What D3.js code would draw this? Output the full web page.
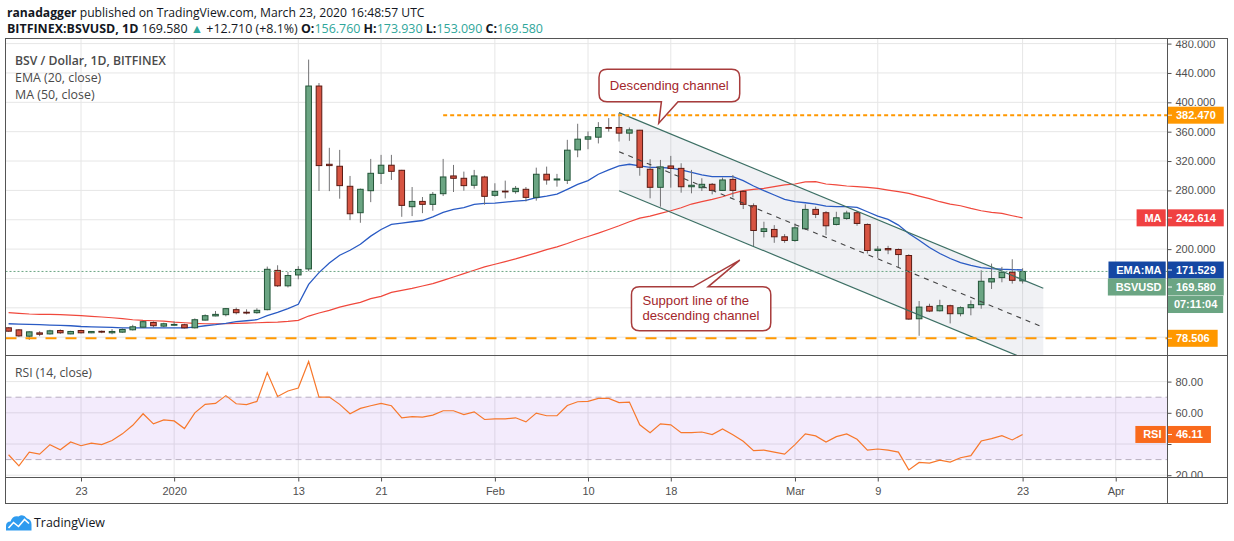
<!DOCTYPE html>
<html><head><meta charset="utf-8">
<script src="https://cdn.jsdelivr.net/npm/d3@7"></script>
<style>
html,body{margin:0;padding:0;background:#fff;}
svg{display:block;font-family:"Liberation Sans",Arial,sans-serif;}
</style></head><body>
<svg id="c" width="1234" height="541"></svg>
<script>
// ---------- DATA ----------
const firstDay = "2019-12-16", lastDay = "2020-03-23";
const open = [
92.8,90.0,81.4,85.9,84.5,89.1,84.5,89.1,86.0,88.0,86.0,86.9,90.1,93.7,100.1,95.1,
96.5,97.0,92.8,103.3,109.0,110.7,117.5,114.0,113.4,117.5,171.0,150.0,164.8,173.0,422.2,315.6,312.9,285.6,249.6,279.6,303.3,314.3,307.4,257.8,265.0,261.0,275.5,299.7,296.5,287.0,298.3,
273.3,279.0,278.3,281.5,270.5,302.0,294.2,293.8,335.2,349.8,352.5,365.7,365.7,358.0,362.0,308.8,284.2,313.3,310.0,285.0,283.7,288.3,280.0,295.0,278.7,259.1,224.0,226.8,216.8,
211.8,227.7,254.1,249.6,233.6,241.8,249.6,233.6,198.1,200.8,199.5,191.3,105.1,122.0,116.0,122.9,112.0,120.2,124.3,155.3,161.2,168.5,156.76];
const high = [
93.5,91.0,88.2,88.2,90.1,90.5,88.7,90.1,88.2,89.1,91.0,91.9,96.9,102.4,101.5,99.7,
101.5,98.3,105.6,111.1,115.7,119.8,120.3,118.0,119.4,176.2,178.0,168.8,176.7,458.2,426.3,338.0,335.2,299.7,282.5,322.9,328.4,328.4,308.0,284.6,271.0,277.8,322.9,314.7,305.6,307.9,300.0,
289.7,293.3,286.0,284.6,311.0,312.4,302.5,348.9,370.8,360.3,373.0,378.5,385.5,365.7,362.5,322.5,321.5,327.0,317.0,307.9,296.5,290.1,297.5,301.0,280.5,262.3,237.3,232.7,220.4,
235.0,261.0,257.8,251.8,250.9,252.3,251.8,235.0,204.0,204.5,200.8,193.0,129.3,125.6,131.0,124.3,122.0,130.2,171.2,180.3,175.8,186.2,173.93];
const low = [
87.5,80.4,76.3,81.4,83.6,84.5,84.0,85.0,85.5,85.5,84.0,86.0,89.1,92.8,93.3,93.7,
95.6,91.9,91.9,102.9,108.4,108.4,111.1,111.1,112.0,116.6,148.5,147.8,158.9,170.0,279.2,279.0,268.7,239.5,235.9,264.0,288.7,294.2,244.0,245.0,249.0,252.3,272.3,277.8,279.6,282.4,260.5,
271.4,269.1,275.5,265.0,266.0,287.8,285.1,288.7,325.2,336.1,344.0,360.0,346.6,347.5,300.0,269.2,257.8,283.7,276.9,276.0,279.2,274.6,279.2,270.5,254.6,204.0,215.9,208.6,208.6,
210.0,226.0,242.3,219.0,232.3,240.0,231.8,194.0,188.0,193.1,175.8,103.8,81.9,114.2,115.0,98.8,108.4,109.8,118.8,145.7,154.8,153.0,153.09];
const close = [
88.2,81.8,87.3,84.0,88.7,86.0,87.8,86.0,87.8,87.4,87.8,90.5,94.2,101.1,95.6,98.3,
97.4,92.8,103.8,109.3,111.1,118.9,113.4,113.8,116.6,172.5,150.0,164.0,172.3,422.2,313.8,313.8,286.5,248.2,281.5,303.3,314.3,306.0,259.6,265.0,261.0,274.6,298.3,296.5,286.5,299.7,271.9,
278.7,278.5,282.8,270.5,302.0,294.2,295.6,334.8,349.8,353.0,365.7,365.3,358.0,362.5,311.5,284.2,312.0,310.0,285.0,287.0,288.3,280.0,294.2,280.0,261.0,225.4,227.7,216.8,211.8,
229.0,254.1,247.3,231.8,242.7,249.2,235.0,198.1,199.9,199.0,192.6,104.7,121.0,115.6,122.9,112.0,120.2,124.3,156.2,159.8,168.5,157.5,169.58];
const ema20 = [
98.3,97.9,97.4,97.0,96.5,96.0,95.6,94.6,94.2,93.7,93.3,92.8,92.8,92.8,92.8,92.8,
92.8,92.8,93.7,95.6,97.0,98.8,101.1,102.4,103.8,109.3,113.9,118.9,124.9,152.0,168.0,181.2,191.7,198.5,206.7,217.7,226.8,233.6,235.4,237.3,239.0,244.0,250.0,254.1,256.4,261.0,262.3,
262.8,264.1,265.5,266.4,270.0,272.3,275.0,281.5,288.3,293.3,302.0,307.9,313.3,315.6,313.3,311.5,311.5,310.2,307.9,304.7,301.0,298.8,298.8,298.8,293.3,286.0,279.6,273.7,267.8,
264.6,263.2,261.4,258.7,257.8,257.8,256.9,250.9,245.0,240.5,232.7,221.3,212.2,202.2,194.0,187.2,181.7,178.0,174.9,173.5,172.6,172.1,171.53];
const ma50 = [
113.4,112.5,111.6,111.1,111.1,110.7,110.2,109.3,108.4,107.5,106.5,105.2,103.8,102.9,102.4,102.0,
100.6,99.7,98.8,98.3,98.3,98.3,98.8,99.2,99.7,100.1,100.6,101.5,102.9,108.8,113.0,116.5,121.0,124.3,127.5,132.5,135.7,141.1,143.9,146.6,149.8,153.0,157.5,162.0,166.7,171.2,175.8,
179.4,183.0,186.7,190.8,194.9,199.4,203.1,207.6,212.7,217.2,221.8,226.8,231.8,237.3,242.3,245.0,248.7,252.3,256.4,261.4,264.6,267.8,271.4,276.0,279.6,281.5,282.8,285.1,287.4,
288.7,291.5,291.9,288.7,287.4,286.0,285.1,284.2,282.8,280.5,278.3,276.0,272.3,268.7,264.6,261.4,259.1,255.5,252.3,250.0,248.7,245.5,242.61];
const rsi14 = [
33.1,26.0,34.8,33.5,39.6,36.3,41.3,38.9,40.6,39.6,42.2,46.5,52.0,59.4,52.9,55.5,
54.8,49.9,60.0,65.4,66.0,71.0,65.8,65.2,67.3,85.8,70.5,74.0,75.9,92.9,70.1,70.1,65.4,59.4,62.8,64.5,66.0,64.5,56.8,57.6,57.2,58.5,61.3,61.3,58.9,60.6,55.7,
56.1,56.1,56.8,54.2,59.8,58.1,58.1,64.7,67.1,67.3,69.2,69.2,66.5,66.9,52.3,47.3,52.9,52.3,47.3,47.3,47.7,46.0,49.7,46.0,41.7,35.7,36.1,34.8,33.5,
39.6,46.5,45.2,41.3,44.7,46.5,43.0,36.1,36.8,36.1,34.8,23.4,28.2,27.7,29.7,28.4,31.2,32.5,41.9,43.4,45.4,42.6,46.11];
const xTickDates = ["2019-12-23","2020-01-01","2020-01-13","2020-01-21","2020-02-01","2020-02-10","2020-02-18","2020-03-01","2020-03-09","2020-03-23","2020-04-01"];
const xTickLabels = ["23","2020","13","21","Feb","10","18","Mar","9","23","Apr"];
const priceTicks = [80,120,160,200,240,280,320,360,400,440,480];
const rsiTicks = [20,40,60,80];
const supportLevel = 78.506, resistLevel = 382.47, resistFrom = "2020-01-27";
const channel = {from:"2020-02-13", to:"2020-03-25", topFrom:385.9, topTo:146.6, width:106.4};
const lastPrice = 169.58, lastEma = 171.529, lastMa = 242.614, lastRsi = 46.11;

// ---------- LAYOUT ----------
const X0=5.5, X1=1167.5, XR=1227.5, Y0=38.5, YP=355.5, YR=477.5, YB=503.5;
const dates = d3.utcDay.range(new Date(firstDay+"T00:00Z"), d3.utcDay.offset(new Date(lastDay+"T00:00Z"),1));
const x = d3.scaleUtc().domain([new Date("2019-12-23T00:00Z"), new Date("2020-03-23T00:00Z")]).range([81,1022.6]);
const y = d3.scaleLinear().domain([80,480]).range([337.2,43.6]);
const yr = d3.scaleLinear().domain([20,80]).range([475.2,381.6]);

const svg = d3.select("#c");
const defs = svg.append("defs");
function clip(id,x0,y0,w,h){defs.append("clipPath").attr("id",id).append("rect").attr("x",x0).attr("y",y0).attr("width",w).attr("height",h);}
clip("cp",X0,Y0,X1-X0,YP-Y0);
clip("cr",X0,YP,X1-X0,YR-YP);
clip("ap",X1,Y0+2,XR-X1,YP-Y0-2);
clip("ar",X1,YP,XR-X1,YR-YP);

const UP="#6ba583", UPB="#225437", DN="#d75442", DNB="#5b1a13", WICK="#737375";
const GRID="#e6e6e6", AXC="#4f4f4f", FRAME="#555";

// grid
const grid = svg.append("g");
const tickDates = xTickDates.map(d=>new Date(d+"T00:00Z"));
grid.selectAll(".vg").data(tickDates).join("line").attr("x1",d=>x(d)).attr("x2",d=>x(d)).attr("y1",Y0).attr("y2",YR).attr("stroke",GRID);
grid.append("g").attr("clip-path","url(#cp)").selectAll("line").data(priceTicks).join("line")
 .attr("x1",X0).attr("x2",X1).attr("y1",d=>y(d)).attr("y2",d=>y(d)).attr("stroke",GRID);
grid.selectAll(".rg").data(rsiTicks).join("line").attr("x1",X0).attr("x2",X1).attr("y1",d=>yr(d)).attr("y2",d=>yr(d)).attr("stroke",GRID);

// ---------- PRICE PANE ----------
const pp = svg.append("g").attr("clip-path","url(#cp)");
const cd0 = new Date(channel.from+"T00:00Z"), cd1 = new Date(channel.to+"T00:00Z");
const cx0=x(cd0), cx1=x(cd1);
pp.append("path").attr("d",`M${cx0},${y(channel.topFrom)}L${cx1},${y(channel.topTo)}L${cx1},${y(channel.topTo-channel.width)}L${cx0},${y(channel.topFrom-channel.width)}Z`)
 .attr("fill","rgba(120,130,155,0.11)");

const lineGen = (arr,sc)=>d3.line().x((d,i)=>x(dates[i])).y(d=>sc(d))(arr);
pp.append("path").attr("d",lineGen(ma50,y)).attr("fill","none").attr("stroke","#f0483c").attr("stroke-width",1.2);
pp.append("path").attr("d",lineGen(ema20,y)).attr("fill","none").attr("stroke","#2a5bc4").attr("stroke-width",1.3);

const candles = pp.append("g").selectAll("g").data(dates).join("g");
candles.append("line").attr("x1",d=>x(d)).attr("x2",d=>x(d)).attr("y1",(d,i)=>y(high[i])).attr("y2",(d,i)=>y(low[i])).attr("stroke",WICK);
candles.append("rect")
 .attr("x",d=>x(d)-2.8).attr("width",5.6)
 .attr("y",(d,i)=>Math.min(y(open[i]),y(close[i])))
 .attr("height",(d,i)=>Math.max(0.8,Math.abs(y(open[i])-y(close[i]))))
 .attr("fill",(d,i)=>close[i]>=open[i]?UP:DN)
 .attr("stroke",(d,i)=>close[i]>=open[i]?UPB:DNB).attr("stroke-width",1);

// channel lines
const CH="#3c6f64";
pp.append("line").attr("x1",cx0).attr("x2",cx1).attr("y1",y(channel.topFrom)).attr("y2",y(channel.topTo)).attr("stroke",CH).attr("stroke-width",1.2);
pp.append("line").attr("x1",cx0).attr("x2",cx1).attr("y1",y(channel.topFrom-channel.width)).attr("y2",y(channel.topTo-channel.width)).attr("stroke",CH).attr("stroke-width",1.2);
pp.append("line").attr("x1",cx0).attr("x2",cx1).attr("y1",y(channel.topFrom-channel.width/2)).attr("y2",y(channel.topTo-channel.width/2)).attr("stroke","#444").attr("stroke-width",1.1).attr("stroke-dasharray","5,5");

// horizontal levels
pp.append("line").attr("x1",X0).attr("x2",X1).attr("y1",y(lastPrice)).attr("y2",y(lastPrice)).attr("stroke",UP).attr("stroke-dasharray","2,2");
pp.append("line").attr("x1",x(new Date(resistFrom+"T00:00Z"))).attr("x2",X1).attr("y1",y(resistLevel)).attr("y2",y(resistLevel)).attr("stroke","#ff9800").attr("stroke-width",2).attr("stroke-dasharray","4,3");
pp.append("line").attr("x1",X0).attr("x2",X1).attr("y1",y(supportLevel)).attr("y2",y(supportLevel)).attr("stroke","#ff9800").attr("stroke-width",2).attr("stroke-dasharray","11,9");

// callouts
function calloutPath(bx0,by0,bx1,by1,r,side,t0,t1,tx,ty){
  let p=`M${bx0+r},${by0}`;
  if(side==="top") p+=`L${t0},${by0}L${tx},${ty}L${t1},${by0}`;
  p+=`L${bx1-r},${by0}Q${bx1},${by0} ${bx1},${by0+r}L${bx1},${by1-r}Q${bx1},${by1} ${bx1-r},${by1}`;
  if(side==="bottom") p+=`L${t1},${by1}L${tx},${ty}L${t0},${by1}`;
  p+=`L${bx0+r},${by1}Q${bx0},${by1} ${bx0},${by1-r}L${bx0},${by0+r}Q${bx0},${by0} ${bx0+r},${by0}Z`;
  return p;
}
function fit(sel,target){const n=sel.node();const fs=parseFloat(sel.attr("font-size"));const w=n.getComputedTextLength();const f=fs*target/w;sel.attr("font-size",f.toFixed(2));return f;}
const CALL="#a83c3c", CALLT="#a3262b", CFONT="Liberation Sans, Arial, sans-serif";
const ann = svg.append("g");
{
  const tx=x(new Date("2020-02-16T20:00Z")), ty=y(371.4);
  ann.append("path").attr("d",calloutPath(tx-59.7,ty-54,tx+81,ty-21.6,8,"bottom",tx+2.7,tx+19.3,tx,ty)).attr("fill","#fff").attr("stroke",CALL).attr("stroke-width",1.5);
  const t1=ann.append("text").attr("x",tx+10.6).attr("y",ty-33).attr("text-anchor","middle").attr("font-family",CFONT).attr("font-size",14).attr("fill",CALLT).text("Descending channel");
  fit(t1,119);
}
{
  const tx=x(new Date("2020-02-24T16:00Z")), ty=y(185.0);
  ann.append("path").attr("d",calloutPath(tx-108.3,ty+26.7,tx+31,ty+70.7,8,"top",tx-46.7,tx-31.7,tx,ty)).attr("fill","#fff").attr("stroke",CALL).attr("stroke-width",1.5);
  const ta=ann.append("text").attr("x",tx-97.3).attr("y",ty+44.5).attr("font-family",CFONT).attr("font-size",14).attr("fill",CALLT).text("Support line of the");
  const tb=ann.append("text").attr("x",tx-97.3).attr("font-family",CFONT).attr("font-size",14).attr("fill",CALLT).text("descending channel");
  const f=fit(tb,117); ta.attr("font-size",f.toFixed(2));
  tb.attr("y",ty+44.5+f*1.14);
}

// ---------- RSI PANE ----------
const rp = svg.append("g").attr("clip-path","url(#cr)");
rp.append("rect").attr("x",X0).attr("width",X1-X0).attr("y",yr(70)).attr("height",yr(30)-yr(70)).attr("fill","rgba(150,70,230,0.11)");
[70,30].forEach(v=>rp.append("line").attr("x1",X0).attr("x2",X1).attr("y1",yr(v)).attr("y2",yr(v)).attr("stroke","#b8afc0").attr("stroke-dasharray","6,4"));
rp.append("path").attr("d",lineGen(rsi14,yr)).attr("fill","none").attr("stroke","#f7782c").attr("stroke-width",1.2);

// ---------- LABEL POSITIONS ----------
const yE=y(lastEma);
const yL=Math.max(y(lastPrice),yE+17);
const priceBoxYs=[y(resistLevel),y(lastMa),yE,yL,yL+17.5,y(supportLevel)];
const rsiBoxYs=[yr(lastRsi)];

// ---------- AXES ----------
const ax1 = svg.append("g").attr("clip-path","url(#ap)").append("g").attr("transform",`translate(${X1},0)`)
 .call(d3.axisRight(y).tickValues(priceTicks).tickFormat(d3.format(".3f")).tickSize(4).tickPadding(4));
const ax2 = svg.append("g").attr("clip-path","url(#ar)").append("g").attr("transform",`translate(${X1},0)`)
 .call(d3.axisRight(yr).tickValues(rsiTicks).tickFormat(d3.format(".2f")).tickSize(4).tickPadding(4));
const ax3 = svg.append("g").attr("transform",`translate(0,${YR})`)
 .call(d3.axisBottom(x).tickValues(tickDates).tickFormat((d,i)=>xTickLabels[i]).tickSize(4).tickPadding(6));
[ax1,ax2,ax3].forEach(a=>{a.select(".domain").remove();a.selectAll("line").attr("stroke",AXC);a.selectAll("text").attr("fill",AXC).attr("font-size",11).attr("font-family","Liberation Sans, Arial, sans-serif");});
ax1.selectAll(".tick").filter(d=>priceBoxYs.some(c=>Math.abs(y(d)-c)<12)).select("text").remove();
ax2.selectAll(".tick").filter(d=>rsiBoxYs.some(c=>Math.abs(yr(d)-c)<12)).select("text").remove();

// frame
const fr = svg.append("g").attr("fill","none").attr("stroke",FRAME);
fr.append("rect").attr("x",X0).attr("y",Y0).attr("width",XR-X0).attr("height",YB-Y0);
fr.append("line").attr("x1",X0).attr("x2",XR).attr("y1",YP).attr("y2",YP);
fr.append("line").attr("x1",X0).attr("x2",XR).attr("y1",YR).attr("y2",YR);
fr.append("line").attr("x1",X1).attr("x2",X1).attr("y1",Y0).attr("y2",YB);

// price labels
const lab = svg.append("g").attr("font-size",11).attr("font-weight","bold");
function valBox(yc,txt,bg,fixedW){
  const g=lab.append("g");
  const r=g.append("rect").attr("x",X1+0.5).attr("y",yc-8.5).attr("height",17).attr("fill",bg);
  const t=g.append("text").attr("x",X1+8.5).attr("y",yc).attr("dy","0.35em").attr("fill","#fff").text(txt);
  const w=fixedW||t.node().getComputedTextLength()+16;
  r.attr("width",w);
  if(fixedW){t.attr("x",X1+0.5+w/2).attr("text-anchor","middle");}
  else g.append("line").attr("x1",X1+0.5).attr("x2",X1+4.5).attr("y1",yc).attr("y2",yc).attr("stroke","#fff");
}
function nameBox(yc,txt,bg){
  const g=lab.append("g");
  const t=g.append("text").attr("x",X1-6).attr("y",yc).attr("dy","0.35em").attr("text-anchor","end").attr("fill","#fff").text(txt);
  const w=t.node().getComputedTextLength()+12;
  g.insert("rect","text").attr("x",X1-1.8-w).attr("y",yc-8.5).attr("width",w).attr("height",17).attr("fill",bg);
}
const ORG="#ff9800", RED="#f04141", NAVY="#1447a3", GRN="#6ba583", RSIC="#f96a1c";
valBox(y(resistLevel),d3.format(".3f")(resistLevel),ORG);
nameBox(y(lastMa),"MA",RED); valBox(y(lastMa),d3.format(".3f")(lastMa),RED);
nameBox(yE,"EMA:MA",NAVY); valBox(yE,d3.format(".3f")(lastEma),NAVY);
nameBox(yL,"BSVUSD",GRN); valBox(yL,d3.format(".3f")(lastPrice),GRN);
valBox(yL+17.5,"07:11:04",GRN,55.2);
valBox(y(supportLevel),d3.format(".3f")(supportLevel),ORG);
nameBox(yr(lastRsi),"RSI",RSIC); valBox(yr(lastRsi),d3.format(".2f")(lastRsi),RSIC);

// ---------- TEXTS ----------
const FONT="Open Sans, Noto Sans, sans-serif";
const h1=svg.append("text").attr("x",7).attr("y",17).attr("font-family",FONT).attr("font-size",14).attr("fill","#131722");
h1.append("tspan").attr("font-weight","bold").text("ranadagger");
h1.append("tspan").text(" published on TradingView.com, March 23, 2020 16:48:57 UTC");
fit(h1,418);
const TEAL="#2fa69a";
const h2=svg.append("text").attr("x",7).attr("y",33).attr("font-family",FONT).attr("font-size",14).attr("fill","#131722");
h2.append("tspan").attr("font-weight","bold").text("BITFINEX:BSVUSD, 1D");
h2.append("tspan").text(" 169.580 ");
h2.append("tspan").attr("fill",TEAL).text("▲");
h2.append("tspan").text(" +12.710 (+8.1%) ");
[["O:","156.760"],[" H:","173.930"],[" L:","153.090"],[" C:","169.580"]].forEach(([k,v])=>{
  h2.append("tspan").attr("font-weight","bold").text(k);
  h2.append("tspan").attr("fill",TEAL).text(v);
});
fit(h2,536);

const lg=svg.append("g").attr("font-family",FONT).attr("fill","#4a4a4a");
const l1=lg.append("text").attr("x",15).attr("y",65).attr("font-size",13).attr("font-weight",600).text("BSV / Dollar, 1D, BITFINEX"); fit(l1,151);
const l2=lg.append("text").attr("x",15).attr("y",82).attr("font-size",13).text("EMA (20, close)"); fit(l2,86.4);
const l3=lg.append("text").attr("x",15).attr("y",99).attr("font-size",13).text("MA (50, close)"); fit(l3,79.7);
const l4=lg.append("text").attr("x",15).attr("y",376.5).attr("font-size",13).text("RSI (14, close)"); fit(l4,77);

// logo
const lo=svg.append("g");
lo.append("path").attr("d","M6,530.5L6,526Q6,521.5 10.5,521.5Q12.5,515.5 18.5,516.5Q23,513 27,518.5Q31.5,519.5 31.5,524.5L31.5,530.5Z").attr("fill","#2f9bef");
lo.append("path").attr("d","M8.5,528L13.5,522.5L18.5,526.5L24.5,519.5L29,523.5").attr("fill","none").attr("stroke","#fff").attr("stroke-width",1.6);
const tv=lo.append("text").attr("x",34).attr("y",527).attr("font-family",FONT).attr("font-size",13).attr("fill","#131722").text("TradingView"); fit(tv,71);
</script></body></html>
